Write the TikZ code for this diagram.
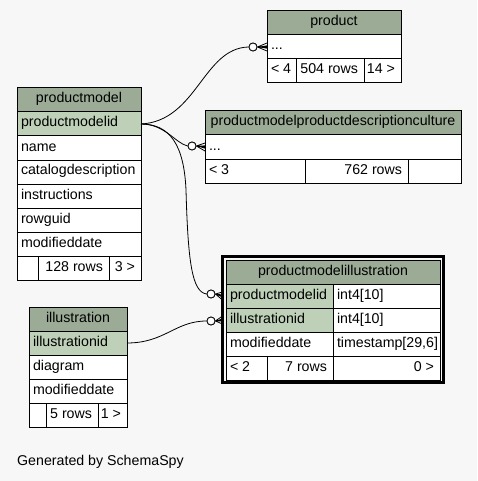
\documentclass[tikz,border=0pt]{standalone}
\usepackage{fontspec}
\newfontfamily\tabfont{Liberation Sans}
\definecolor{hdr}{HTML}{9BAB96}
\definecolor{pk}{HTML}{BED1B8}
\definecolor{bg}{HTML}{F7F7F7}
\tikzset{
  cell/.style={draw=black, line width=1pt, anchor=north west, inner sep=0pt, outer sep=0pt,
    minimum height=24pt, text height=10pt, text depth=4pt, font=\tabfont\fontsize{14.2}{16}\selectfont},
  fk/.style={line width=0.8pt, draw=black},
  ring/.style={circle, draw=black, line width=0.8pt, fill=white, minimum size=8pt, inner sep=0pt},
  frame/.style={draw=black, line width=3pt, anchor=north west, inner sep=0pt, outer sep=0pt},
}
% name, x, y, width, fill, text
\newcommand\cellL[6]{\node[cell, fill=#5, minimum width=#4pt] (#1) at (#2,#3) {\hbox to #4pt{\hskip4pt #6\hfil}};}
\newcommand\cellC[6]{\node[cell, fill=#5, minimum width=#4pt] (#1) at (#2,#3) {\hbox to #4pt{\hfil #6\hfil}};}
\newcommand\cellR[6]{\node[cell, fill=#5, minimum width=#4pt] (#1) at (#2,#3) {\hbox to #4pt{\hfil #6\hskip6pt}};}
\newcommand\crowfoot[2]{%
  \draw[fk] (#1) -- ([yshift=4pt]#2) (#1) -- (#2) (#1) -- ([yshift=-4pt]#2);
  \fill[black] (#1) -- ([yshift=1.6pt]#2) -- ([yshift=-1.6pt]#2) -- cycle;}
\begin{document}
\begin{tikzpicture}[x=1pt,y=-1pt]
\useasboundingbox[fill=bg] (0,0) rectangle (477,481);

% product
\cellC{ph}{267}{11}{134}{hdr}{product}
\cellL{pdots}{267}{35}{134}{white}{...}
\cellL{pf1}{267}{59}{29}{white}{< 4}
\cellR{pf2}{296}{59}{68}{white}{504 rows}
\cellR{pf3}{364}{59}{37}{white}{14 >}

% productmodelproductdescriptionculture
\cellC{dh}{205}{111}{256}{hdr}{productmodelproductdescriptionculture}
\cellL{ddots}{205}{135}{256}{white}{...}
\cellL{df1}{205}{159}{100}{white}{< 3}
\cellR{df2}{305}{159}{103}{white}{762 rows}
\cellR{df3}{408}{159}{53}{white}{}

% productmodel
\cellC{mh}{17}{88}{124}{hdr}{productmodel}
\cellL{pmid}{17}{112}{124}{pk}{productmodelid}
\cellL{mname}{17}{136}{124}{white}{name}
\cellL{mcat}{17}{160}{124}{white}{catalogdescription}
\cellL{mins}{17}{184}{124}{white}{instructions}
\cellL{mrow}{17}{208}{124}{white}{rowguid}
\cellL{mmod}{17}{232}{124}{white}{modifieddate}
\cellL{mf1}{17}{256}{21}{white}{}
\cellR{mf2}{38}{256}{71}{white}{128 rows}
\cellR{mf3}{109}{256}{32}{white}{3 >}

% illustration
\cellC{ih}{29}{307}{98}{hdr}{illustration}
\cellL{ilid}{29}{331}{98}{pk}{illustrationid}
\cellL{idia}{29}{355}{98}{white}{diagram}
\cellL{imod}{29}{379}{98}{white}{modifieddate}
\cellL{if1}{29}{403}{17}{white}{}
\cellR{if2}{46}{403}{52}{white}{5 rows}
\cellR{if3}{98}{403}{29}{white}{1 >}

% productmodelillustration
\node[frame, minimum width=221pt, minimum height=126pt] (pmi) at (222.5,256.5) {};
\cellC{xh}{226}{260}{214}{hdr}{productmodelillustration}
\cellL{xpm}{226}{284}{107}{pk}{productmodelid}
\cellL{xpmt}{333}{284}{107}{white}{int4[10]}
\cellL{xil}{226}{308}{107}{pk}{illustrationid}
\cellL{xilt}{333}{308}{107}{white}{int4[10]}
\cellL{xmd}{226}{332}{107}{white}{modifieddate}
\cellL{xmdt}{333}{332}{107}{white}{timestamp[29,6]}
\cellL{xf1}{226}{356}{41}{white}{< 2}
\cellR{xf2}{267}{356}{66}{white}{7 rows}
\cellR{xf3}{333}{356}{107}{white}{0 >}

% rings and target points
\node[ring] (r1) at (253,47) {};
\node[ring] (r2) at (192,146) {};
\node[ring] (r3) at (211,294) {};
\node[ring] (r4) at (211,321) {};
\coordinate (t1) at (r1 -| pdots.west);
\coordinate (t2) at (ddots.west);
\coordinate (t3) at (xpm.west -| pmi.west);
\coordinate (t4) at (xil.west -| pmi.west);

% connectors
\draw[fk] (pmid.east) .. controls (197,121) and (203,48) .. (r1.west);
\draw[fk] (pmid.east) .. controls (165,124) and (175,143) .. (r2.west);
\draw[fk] (pmid.east) .. controls (170,124) and (184,145) .. (186,190)
          .. controls (188,262) and (192,292) .. (r3.west);
\draw[fk] (ilid.east) .. controls (165,343) and (175,321) .. (r4.west);
\crowfoot{r1.east}{t1}
\crowfoot{r2.east}{t2}
\crowfoot{r3.east}{t3}
\crowfoot{r4.east}{t4}
\node[ring] at (r1) {};
\node[ring] at (r2) {};
\node[ring] at (r3) {};
\node[ring] at (r4) {};

\node[anchor=base west, inner sep=0pt, font=\tabfont\fontsize{14.2}{16}\selectfont] (gen) at (17,465) {Generated by SchemaSpy};
\end{tikzpicture}
\end{document}
